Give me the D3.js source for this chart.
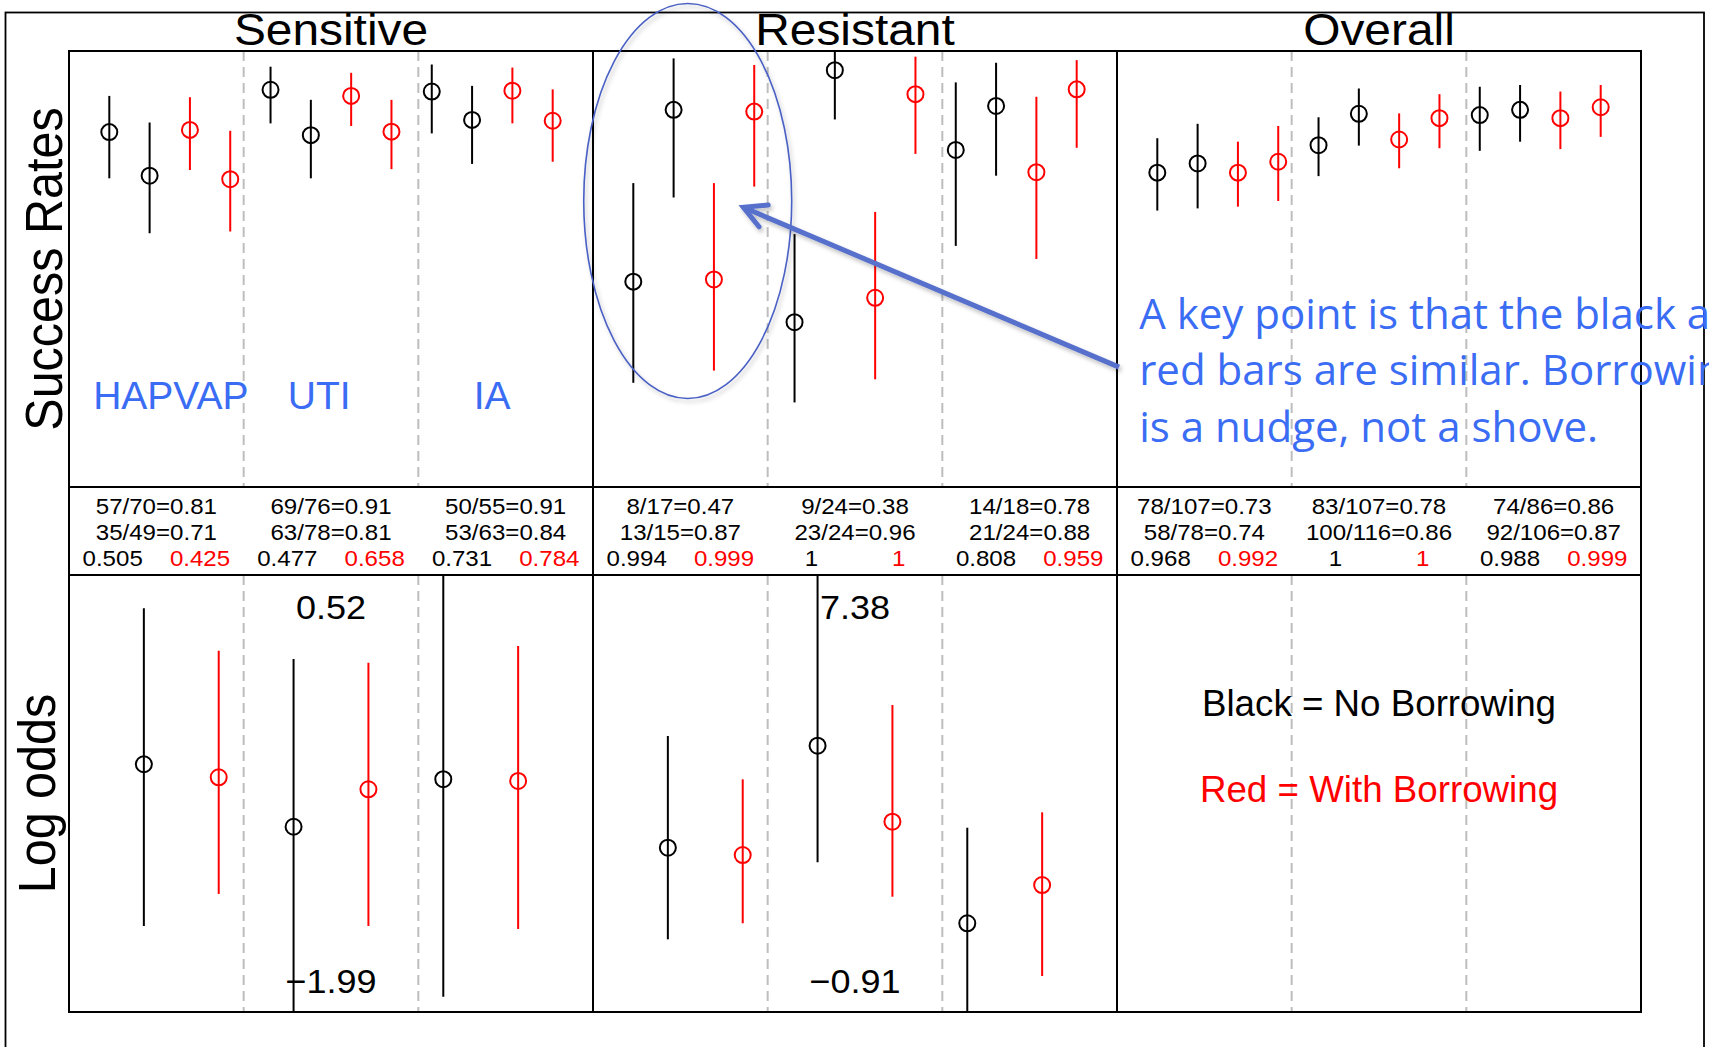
<!DOCTYPE html>
<html>
<head>
<meta charset="utf-8">
<script src="https://cdn.jsdelivr.net/npm/d3@7"></script>
<style>
body{margin:0;background:#fff;}
svg{display:block;}
</style>
</head>
<body>
<div id="chart"></div>
<script>
const panels = ["Sensitive", "Resistant", "Overall"];
const sites = ["HAPVAP", "UTI", "IA"];

// success rates, per site: black arm1, black arm2, red arm1, red arm2
const sensitiveMid = [0.814, 0.714, 0.819, 0.706, 0.911, 0.807, 0.897, 0.815, 0.907, 0.842, 0.909, 0.840];
const sensitiveLo  = [0.708, 0.582, 0.727, 0.586, 0.834, 0.708, 0.828, 0.729, 0.811, 0.741, 0.834, 0.746];
const sensitiveHi  = [0.897, 0.836, 0.894, 0.817, 0.964, 0.888, 0.950, 0.888, 0.969, 0.920, 0.962, 0.912];
const resistantMid = [0.471, 0.865, 0.476, 0.861, 0.378, 0.956, 0.434, 0.901, 0.773, 0.874, 0.722, 0.912];
const resistantLo  = [0.239, 0.664, 0.267, 0.689, 0.194, 0.843, 0.247, 0.764, 0.553, 0.714, 0.523, 0.778];
const resistantHi  = [0.697, 0.983, 0.697, 0.968, 0.580, 0.998, 0.631, 0.987, 0.928, 0.973, 0.895, 0.979];
const overallMid   = [0.721, 0.742, 0.721, 0.746, 0.784, 0.856, 0.797, 0.846, 0.853, 0.865, 0.846, 0.871];
const overallLo    = [0.634, 0.639, 0.643, 0.656, 0.713, 0.783, 0.731, 0.777, 0.771, 0.792, 0.775, 0.803];
const overallHi    = [0.800, 0.833, 0.792, 0.828, 0.848, 0.914, 0.857, 0.901, 0.918, 0.922, 0.907, 0.922];

// log odds, per site: black, red
const sensLogMid = [-0.567, -0.642, -0.926, -0.711, -0.653, -0.663];
const sensLogLo  = [-1.496, -1.312, -1.99, -1.496, -1.902, -1.513];
const sensLogHi  = [0.329, 0.085, 0.038, 0.016, 0.52, 0.112];
const resLogMid  = [2.207, 2.068, 4.142, 2.700, 0.773, 1.499];
const resLogLo   = [0.469, 0.773, 1.930, 1.277, -0.91, -0.227];
const resLogHi   = [4.326, 3.504, 7.38, 4.914, 2.586, 2.878];

// table: Sensitive (3 sites), Resistant (3), Overall (3)
const arm1Succ = [57, 69, 50, 8, 9, 14, 78, 83, 74];
const arm1N    = [70, 76, 55, 17, 24, 18, 107, 107, 86];
const arm2Succ = [35, 63, 53, 13, 23, 21, 58, 100, 92];
const arm2N    = [49, 78, 63, 15, 24, 24, 78, 116, 106];
const probNoBorrow = [0.505, 0.477, 0.731, 0.994, 1, 0.808, 0.968, 1, 0.988];
const probBorrow   = [0.425, 0.658, 0.784, 0.999, 1, 0.959, 0.992, 1, 0.999];

const seriesColors = ["#000000", "#ff0000"];
const blue = "#3a6cf4";
const RFONT = "'Liberation Sans', Arial, Helvetica, sans-serif";

const W = 1709, H = 1047;
const plotLeft = 69, plotRight = 1641, plotTop = 51;
const upperH = 436, tableH = 88, lowerH = 437;
const tableTop = plotTop + upperH;
const lowerTop = tableTop + tableH;
const plotBottom = lowerTop + lowerH;

const svg = d3.select("#chart")
	.append("svg")
		.attr("width", W)
		.attr("height", H);

svg.append("defs").append("filter")
		.attr("id", "shadow")
		.attr("x", "-10%").attr("y", "-10%").attr("width", "130%").attr("height", "130%")
	.append("feDropShadow")
		.attr("dx", 2).attr("dy", 3).attr("stdDeviation", 2)
		.attr("flood-color", "#000").attr("flood-opacity", 0.25);

const xPanel = d3.scaleBand().domain(panels).range([plotLeft, plotRight]);
const pw = xPanel.bandwidth();
const xUp = d3.scaleLinear().domain([0, 13]).range([0, pw]);
const xLow = d3.scaleLinear().domain([0, 7]).range([0, pw]);
const yRate = d3.scaleLinear().domain([0, 1]).range([tableTop, plotTop]);

const upperSets = {
	Sensitive: [sensitiveMid, sensitiveLo, sensitiveHi],
	Resistant: [resistantMid, resistantLo, resistantHi],
	Overall: [overallMid, overallLo, overallHi]
};
const lowerSets = {
	Sensitive: [sensLogMid, sensLogLo, sensLogHi],
	Resistant: [resLogMid, resLogLo, resLogHi]
};

function stext(sel, x, y, str, {size, sx = 1, anchor = "middle", fill = "#000", family = RFONT, rotate = 0}){
	return sel.append("text")
		.attr("transform", `translate(${x},${y}) scale(${sx},1)` + (rotate ? ` rotate(${rotate})` : ""))
		.attr("text-anchor", anchor)
		.attr("font-family", family)
		.attr("font-size", size)
		.attr("fill", fill)
		.text(str);
}

const fmtLog = d3.format(".2f");

panels.forEach((p, pi) => {
	const g = svg.append("g").attr("transform", `translate(${xPanel(p)},0)`);

	// grey dashed separators between sites
	[1, 2].forEach(k => {
		g.append("line")
			.attr("x1", xUp(13 * k / 3)).attr("x2", xUp(13 * k / 3))
			.attr("y1", plotTop).attr("y2", tableTop)
			.attr("stroke", "#bdbdbd").attr("stroke-width", 2).attr("stroke-dasharray", "10,6");
		g.append("line")
			.attr("x1", xLow(7 * k / 3)).attr("x2", xLow(7 * k / 3))
			.attr("y1", lowerTop).attr("y2", plotBottom)
			.attr("stroke", "#bdbdbd").attr("stroke-width", 2).attr("stroke-dasharray", "10,6");
	});

	// success rate intervals
	const [mid, lo, hi] = upperSets[p];
	const up = mid.map((m, i) => ({x: i + 1, m, lo: lo[i], hi: hi[i], c: seriesColors[Math.floor(i / 2) % 2]}));
	const ug = g.append("g").selectAll("g").data(up).join("g");
	ug.append("line")
		.attr("x1", d => xUp(d.x)).attr("x2", d => xUp(d.x))
		.attr("y1", d => yRate(d.lo)).attr("y2", d => yRate(d.hi))
		.attr("stroke", d => d.c).attr("stroke-width", 2);
	ug.append("circle")
		.attr("cx", d => xUp(d.x)).attr("cy", d => yRate(d.m))
		.attr("r", 8).attr("fill", "none")
		.attr("stroke", d => d.c).attr("stroke-width", 2);

	// log odds intervals
	if(lowerSets[p]){
		const [lm, ll, lh] = lowerSets[p];
		const yLog = d3.scaleLinear().domain([d3.min(ll), d3.max(lh)]).range([plotBottom, lowerTop]);
		const lp = lm.map((m, i) => ({x: i + 1, m, lo: ll[i], hi: lh[i], c: seriesColors[i % 2]}));
		const lg = g.append("g").selectAll("g").data(lp).join("g");
		lg.append("line")
			.attr("x1", d => xLow(d.x)).attr("x2", d => xLow(d.x))
			.attr("y1", d => yLog(d.lo)).attr("y2", d => yLog(d.hi))
			.attr("stroke", d => d.c).attr("stroke-width", 2);
		lg.append("circle")
			.attr("cx", d => xLow(d.x)).attr("cy", d => yLog(d.m))
			.attr("r", 8).attr("fill", "none")
			.attr("stroke", d => d.c).attr("stroke-width", 2);
		stext(g, pw / 2, lowerTop + 44, fmtLog(yLog.domain()[1]), {size: 34, sx: 1.06});
		stext(g, pw / 2, plotBottom - 19, fmtLog(yLog.domain()[0]), {size: 34, sx: 1.06});
	}

	// table
	sites.forEach((s, k) => {
		const j = pi * 3 + k;
		const cx = pw * (k + 0.5) / 3;
		stext(g, cx, tableTop + 27.3, `${arm1Succ[j]}/${arm1N[j]}=${(arm1Succ[j] / arm1N[j]).toFixed(2)}`, {size: 22.5, sx: 1.07});
		stext(g, cx, tableTop + 53.3, `${arm2Succ[j]}/${arm2N[j]}=${(arm2Succ[j] / arm2N[j]).toFixed(2)}`, {size: 22.5, sx: 1.07});
		stext(g, pw * (k + 0.25) / 3, tableTop + 79, String(probNoBorrow[j]), {size: 22.5, sx: 1.07});
		stext(g, pw * (k + 0.75) / 3, tableTop + 79, String(probBorrow[j]), {size: 22.5, sx: 1.07, fill: seriesColors[1]});
	});

	// panel title
	stext(svg, xPanel(p) + pw / 2, 45, p, {size: 43.5, sx: 1.1});
});

// frames
const frame = svg.append("g").attr("fill", "none").attr("stroke", "#000").attr("stroke-width", 2);
frame.append("rect").attr("x", 5.5).attr("y", 12.5).attr("width", 1698.5).attr("height", H + 20).attr("stroke-width", 1.8);
[[plotTop, upperH], [tableTop, tableH], [lowerTop, lowerH]].forEach(([y, h]) => {
	frame.append("rect").attr("x", plotLeft).attr("y", y).attr("width", plotRight - plotLeft).attr("height", h);
});
panels.slice(1).forEach(p => {
	frame.append("line").attr("x1", xPanel(p)).attr("x2", xPanel(p)).attr("y1", plotTop).attr("y2", plotBottom);
});

// axis titles
stext(svg, 62, (plotTop + tableTop) / 2, "Success Rates", {size: 48.5, sx: 1.06, rotate: -90});
stext(svg, 55, (lowerTop + plotBottom) / 2, "Log odds", {size: 48.5, sx: 1.06, rotate: -90});

// legend
const ox = xPanel("Overall") + pw / 2;
stext(svg, ox, lowerTop + 140.7, "Black = No Borrowing", {size: 36, sx: 1.02, fill: seriesColors[0]});
stext(svg, ox, lowerTop + 227.3, "Red = With Borrowing", {size: 36, sx: 1.02, fill: seriesColors[1]});

// site labels
const siteLabelX = [0.6, 5.43, 10.04];
sites.forEach((s, k) => {
	stext(svg, xPanel("Sensitive") + xUp(siteLabelX[k]), yRate(0.18), s, {size: 39, anchor: "start", fill: blue});
});

// callout ellipse around the first resistant site
svg.append("ellipse")
	.attr("cx", xPanel("Resistant") + xUp(2.35))
	.attr("cy", yRate(0.656))
	.attr("rx", xUp(2.58))
	.attr("ry", yRate(0) - yRate(0.453))
	.attr("fill", "none")
	.attr("stroke", "#4a60c4")
	.attr("stroke-width", 1.6)
	.attr("filter", "url(#shadow)");

// arrow
const a0 = [xPanel("Overall") + xUp(0.05), yRate(0.275)];
const a1 = [xPanel("Resistant") + xUp(3.73), yRate(0.6415)];
const ang = Math.atan2(a0[1] - a1[1], a0[0] - a1[0]);
const wing = (da) => [a1[0] + 25 * Math.cos(ang + da), a1[1] + 25 * Math.sin(ang + da)];
const w1 = wing(-0.49), w2 = wing(0.49);
const arrow = svg.append("g")
	.attr("stroke", "#5670cc")
	.attr("fill", "none")
	.attr("filter", "url(#shadow)");
arrow.append("line")
	.attr("x1", a0[0]).attr("y1", a0[1])
	.attr("x2", a1[0]).attr("y2", a1[1])
	.attr("stroke-width", 5);
arrow.append("path")
	.attr("d", `M${w1[0]},${w1[1]}L${a1[0]},${a1[1]}L${w2[0]},${w2[1]}`)
	.attr("stroke-width", 5)
	.attr("stroke-linejoin", "miter")
	.attr("stroke-linecap", "round");

// note text (runs off the right edge, as on the slide)
const noteLines = ["A key point is that the black and", "red bars are similar. Borrowing", "is a nudge, not a shove."];
const noteY = [0.362, 0.234, 0.104];
noteLines.forEach((t, i) => {
	stext(svg, xPanel("Overall") + xUp(0.55), yRate(noteY[i]), t, {size: 42, anchor: "start", fill: blue, family: "'Open Sans', 'Noto Sans', sans-serif"});
});
</script>
</body>
</html>
